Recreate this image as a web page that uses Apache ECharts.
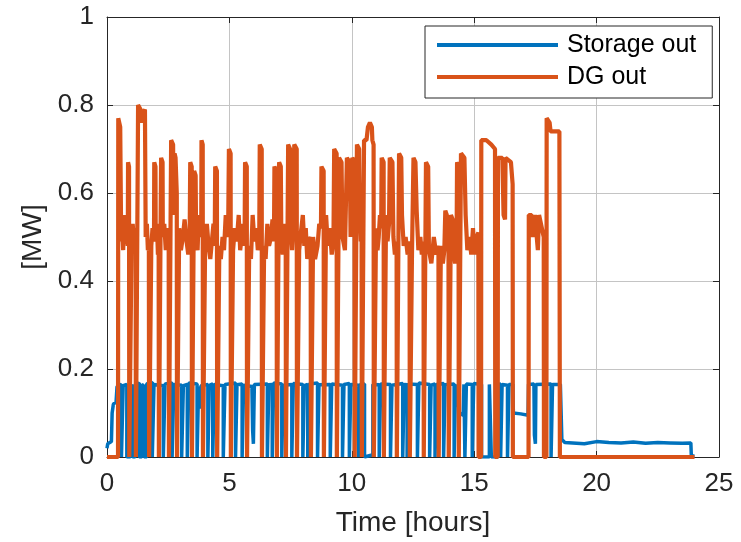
<!DOCTYPE html>
<html>
<head>
<meta charset="utf-8">
<script src="https://cdn.jsdelivr.net/npm/echarts@6/dist/echarts.min.js"></script>
<style>
html,body{margin:0;padding:0;background:#fff;}
#c{width:741px;height:542px;}
</style>
</head>
<body>
<div id="c"></div>
<script>
// ---- data (time in hours, power in MW) ----
var seriesNames = ['Storage out', 'DG out'];
var xTicks = [0, 5, 10, 15, 20, 25];
var yTicks = [0, 0.2, 0.4, 0.6, 0.8, 1];

var dgOut = [
[0,0],[0.45,0],
[0.46,0.77],[0.54,0.75],[0.58,0.49],[0.62,0.52],[0.66,0.47],[0.68,0.50],[0.72,0.55],[0.76,0.49],[0.80,0.52],[0.85,0.48],[0.86,0.67],[0.9,0.66],
[0.91,0],[0.99,0],
[1.0,0.47],[1.05,0.53],[1.1,0.49],[1.14,0.52],[1.17,0.50],
[1.18,0],[1.26,0],
[1.27,0.80],[1.37,0.79],[1.40,0.76],[1.47,0.78],[1.55,0.79],[1.58,0.50],[1.63,0.53],[1.67,0.47],[1.71,0.49],
[1.72,0],[1.80,0],
[1.81,0.48],[1.86,0.52],[1.92,0.49],[1.93,0.67],[1.98,0.66],[1.99,0.49],[2.04,0.53],[2.08,0.46],[2.11,0.48],
[2.12,0],[2.20,0],
[2.21,0.68],[2.27,0.67],[2.28,0.50],[2.34,0.53],[2.40,0.47],[2.46,0.52],[2.52,0.49],
[2.53,0],[2.61,0],
[2.62,0.72],[2.70,0.71],[2.72,0.55],[2.76,0.69],[2.80,0.68],[2.85,0.60],
[2.86,0],[2.94,0],
[2.95,0.52],[3.02,0.47],[3.10,0.50],[3.17,0.54],[3.25,0.49],[3.32,0.46],[3.38,0.52],[3.40,0.67],[3.46,0.66],
[3.47,0],[3.55,0],
[3.56,0.65],[3.62,0.64],[3.64,0.50],[3.70,0.47],[3.75,0.55],[3.80,0.50],[3.85,0.52],[3.86,0.72],[3.91,0.71],
[3.92,0],[4.00,0],
[4.01,0.49],[4.08,0.53],[4.15,0.48],[4.22,0.45],[4.30,0.50],[4.35,0.53],[4.40,0.48],[4.42,0.66],[4.49,0.65],
[4.50,0],[4.58,0],
[4.59,0.48],[4.65,0.45],[4.72,0.50],[4.78,0.47],[4.85,0.55],[4.90,0.50],[4.95,0.52],[4.98,0.70],[5.05,0.69],
[5.06,0],[5.14,0],
[5.15,0.47],[5.22,0.52],[5.30,0.49],[5.38,0.55],[5.44,0.47],[5.50,0.50],[5.56,0.53],[5.62,0.48],[5.64,0.67],[5.71,0.66],
[5.72,0],[5.80,0],
[5.81,0.48],[5.88,0.45],[5.95,0.55],[6.02,0.49],[6.10,0.52],[6.16,0.47],[6.22,0.50],[6.24,0.71],[6.32,0.70],
[6.33,0],[6.41,0],
[6.42,0.48],[6.48,0.45],[6.55,0.53],[6.62,0.48],[6.70,0.50],[6.76,0.54],[6.82,0.49],[6.84,0.66],[6.93,0.65],
[6.94,0],[7.02,0],
[7.03,0.67],[7.10,0.66],[7.12,0.50],[7.18,0.46],[7.25,0.53],[7.30,0.51],
[7.31,0],[7.39,0],
[7.40,0.71],[7.48,0.70],[7.50,0.52],[7.56,0.47],[7.62,0.53],[7.65,0.71],[7.75,0.70],
[7.76,0],[7.84,0],
[7.85,0.47],[7.92,0.51],[8.00,0.55],[8.06,0.48],[8.12,0.52],[8.18,0.45],[8.25,0.49],[8.32,0.50],
[8.33,0],[8.41,0],
[8.42,0.50],[8.50,0.45],[8.60,0.48],[8.67,0.53],[8.74,0.52],[8.76,0.66],[8.85,0.65],
[8.86,0],[8.94,0],
[8.95,0.55],[9.02,0.48],[9.10,0.52],[9.18,0.46],[9.25,0.49],[9.28,0.70],[9.38,0.69],
[9.39,0],[9.47,0],
[9.48,0.68],[9.58,0.67],[9.62,0.50],[9.72,0.47],[9.80,0.68],[9.92,0.67],[9.95,0.50],[10.02,0.68],[10.11,0.67],
[10.12,0],[10.20,0],
[10.21,0.71],[10.30,0.70],[10.33,0.55],[10.37,0.49],[10.40,0.53],
[10.41,0],[10.49,0],
[10.50,0.72],[10.60,0.72],[10.66,0.75],[10.74,0.76],[10.82,0.75],[10.84,0.72],[10.89,0.71],
[10.90,0],[10.98,0],
[10.99,0.52],[11.05,0.47],[11.10,0.50],[11.15,0.55],[11.20,0.52],[11.22,0.68],[11.30,0.67],
[11.31,0],[11.39,0],
[11.40,0.55],[11.46,0.49],[11.52,0.53],[11.55,0.68],[11.66,0.67],[11.70,0.50],[11.76,0.46],[11.83,0.49],
[11.84,0],[11.92,0],
[11.93,0.69],[12.02,0.68],[12.05,0.55],[12.12,0.48],[12.20,0.50],[12.28,0.46],[12.36,0.49],
[12.37,0],[12.45,0],
[12.46,0.47],[12.52,0.68],[12.60,0.67],[12.65,0.56],[12.72,0.47],[12.80,0.50],[12.86,0.46],[12.93,0.49],
[12.94,0],[13.02,0],
[13.03,0.67],[13.12,0.66],[13.15,0.47],[13.25,0.44],[13.35,0.50],[13.45,0.46],[13.54,0.48],
[13.55,0],[13.63,0],
[13.64,0.48],[13.72,0.44],[13.78,0.47],[13.82,0.56],[13.88,0.55],[13.90,0.47],[13.95,0.48],
[13.96,0],[14.04,0],
[14.05,0.55],[14.12,0.54],[14.15,0.47],[14.22,0.44],[14.28,0.48],[14.30,0.67],[14.36,0.66],
[14.37,0],[14.45,0],
[14.46,0.69],[14.60,0.68],[14.65,0.55],[14.72,0.47],[14.80,0.50],[14.88,0.46],[14.95,0.52],[15.02,0.46],[15.10,0.50],[15.17,0.51],
[15.18,0],[15.28,0],
[15.29,0.72],[15.50,0.72],[15.70,0.71],[15.85,0.70],
[15.86,0],[15.96,0],
[15.97,0.68],[16.15,0.68],[16.20,0.55],[16.26,0.54],[16.28,0.68],[16.50,0.67],[16.57,0.62],
[16.58,0],[17.22,0],
[17.23,0.55],[17.35,0.55],[17.38,0.50],[17.46,0.50],[17.48,0.55],[17.60,0.47],[17.65,0.55],[17.84,0.50],
[17.85,0],[17.95,0],
[17.96,0.77],[18.08,0.76],[18.12,0.74],[18.48,0.74],
[18.50,0],[24,0]
];

var storageOut = [
[0,0.02],[0.03,0.03],[0.18,0.035],[0.21,0.1],[0.26,0.12],[0.37,0.125],[0.41,0.16],
[0.59,0.165],[0.59,0],[0.66,0],[0.66,0.162],[0.81,0.165],[0.81,0],[0.95,0],[0.95,0.16],
[1.05,0.163],[1.05,0],[1.15,0],[1.15,0.165],[1.32,0.168],[1.32,0],[1.42,0],[1.42,0.165],
[1.52,0.16],[1.52,0],[1.62,0],[1.62,0.166],[1.85,0.17],[1.85,0],[1.92,0],[1.92,0.165],
[2.30,0.162],[2.30,0],[2.37,0],[2.37,0.166],[2.66,0.168],[2.66,0],[2.73,0],[2.73,0.165],
[3.05,0.163],[3.05,0],[3.12,0],[3.12,0.162],[3.28,0.165],[3.28,0],[3.34,0],[3.34,0.168],
[3.68,0.166],[3.68,0],[3.74,0],[3.74,0.16],[3.80,0.11],[3.84,0.162],
[4.12,0.165],[4.12,0],[4.18,0],[4.18,0.163],[4.32,0.166],[4.32,0],[4.38,0],[4.38,0.165],
[4.75,0.162],[4.75,0],[4.82,0],[4.82,0.165],[5.25,0.168],[5.25,0],[5.31,0],[5.31,0.164],
[5.52,0.166],[5.52,0],[5.58,0],[5.58,0.163],[5.92,0.16],[5.95,0.06],[5.98,0.03],[6.0,0.1],[6.02,0.165],
[6.55,0.166],[6.55,0],[6.61,0],[6.61,0.164],[6.75,0.165],[6.75,0],[6.81,0],[6.81,0.168],
[7.14,0.166],[7.14,0],[7.20,0],[7.20,0.163],[7.55,0.165],[7.55,0],[7.61,0],[7.61,0.167],
[8.00,0.165],[8.00,0],[8.06,0],[8.06,0.162],[8.20,0.165],[8.20,0],[8.26,0],[8.26,0.166],
[8.60,0.168],[8.60,0],[8.66,0],[8.66,0.164],[9.12,0.165],[9.12,0],[9.18,0],[9.18,0.166],
[9.62,0.163],[9.62,0],[9.68,0],[9.68,0.165],[9.90,0.167],[9.90,0],[9.96,0],[9.96,0.165],
[10.28,0.163],[10.28,0],[10.34,0],[10.34,0.165],[10.52,0.166],[10.52,0],[10.86,0.005],[10.86,0.165],
[11.12,0.164],[11.12,0],[11.18,0],[11.18,0.166],[11.58,0.165],[11.58,0],[11.64,0],[11.64,0.163],
[12.08,0.167],[12.08,0],[12.14,0],[12.14,0.165],[12.26,0.164],[12.26,0],[12.32,0],[12.32,0.166],
[12.68,0.165],[12.68,0],[12.74,0],[12.74,0.168],[13.18,0.165],[13.18,0],[13.24,0],[13.24,0.163],
[13.40,0.166],[13.40,0],[13.46,0],[13.46,0.165],[13.75,0.167],[13.75,0],[13.81,0],[13.81,0.164],
[14.18,0.166],[14.18,0],[14.24,0],[14.24,0.165],[14.40,0.1],[14.55,0.095],[14.58,0.165],
[14.62,0.165],[14.62,0],[14.68,0],[14.68,0.166],[14.92,0.165],[14.92,0],[14.98,0],[14.98,0.167],
[15.30,0.165],[15.30,0],[15.62,0],[15.62,0.165],[15.70,0.165],[15.70,0],[15.98,0],[15.98,0.165],
[16.08,0.166],[16.08,0],[16.14,0],[16.14,0.165],[16.36,0.163],[16.36,0],[16.42,0],[16.42,0.165],
[16.58,0.165],[16.60,0.1],[16.9,0.098],[17.2,0.095],[17.22,0.165],[17.44,0.166],[17.46,0.05],
[17.50,0.03],[17.52,0.165],[18.14,0.166],[18.14,0],[18.20,0],[18.20,0.165],[18.52,0.165],
[18.58,0.04],[18.7,0.033],[19.5,0.03],[20.0,0.035],[20.5,0.033],[21.0,0.032],[21.5,0.034],
[22.0,0.031],[22.5,0.033],[23.0,0.032],[23.5,0.031],[23.85,0.032],[23.87,0.002],[24,0.002]
];

// ---- chart ----
var FONT = "'Liberation Sans', Arial, Helvetica, sans-serif";
var AX = '#262626';
var chart = echarts.init(document.getElementById('c'), null, {renderer: 'canvas'});

function baseX(pos, labels) {
  return {
    type: 'value', position: pos, min: xTicks[0], max: xTicks[xTicks.length - 1],
    interval: xTicks[1] - xTicks[0],
    axisLine: {show: true, onZero: false, lineStyle: {color: AX, width: 1}},
    axisTick: {show: true, inside: true, length: 6, lineStyle: {color: AX}},
    axisLabel: {show: labels, color: AX, fontSize: 26, fontFamily: FONT, margin: 14},
    splitLine: {show: labels, lineStyle: {color: '#c4c4c4', width: 1}}
  };
}
function baseY(pos, labels) {
  return {
    type: 'value', position: pos, min: yTicks[0], max: yTicks[yTicks.length - 1],
    interval: yTicks[1] - yTicks[0],
    axisLine: {show: true, onZero: false, lineStyle: {color: AX, width: 1}},
    axisTick: {show: true, inside: true, length: 6, lineStyle: {color: AX}},
    axisLabel: {show: labels, color: AX, fontSize: 26, fontFamily: FONT, margin: 13},
    splitLine: {show: labels, lineStyle: {color: '#c4c4c4', width: 1}}
  };
}

var x0 = baseX('bottom', true);
x0.name = 'Time [hours]';
x0.nameLocation = 'middle';
x0.nameGap = 52;
x0.nameTextStyle = {color: AX, fontSize: 28, fontFamily: FONT};
var x1 = baseX('top', false);

var y0 = baseY('left', true);
y0.name = '[MW]';
y0.nameLocation = 'middle';
y0.nameGap = 60;
y0.nameTextStyle = {color: AX, fontSize: 28, fontFamily: FONT};
var y1 = baseY('right', false);

chart.setOption({
  animation: false,
  backgroundColor: '#fff',
  grid: {left: 107, right: 22, top: 17, bottom: 85, containLabel: false},
  legend: {
    data: seriesNames,
    orient: 'vertical',
    left: 425, top: 26,
    icon: 'rect',
    itemWidth: 121, itemHeight: 4, itemGap: 4,
    padding: [5, 16, 7, 12],
    backgroundColor: '#fff',
    borderColor: AX, borderWidth: 1, borderRadius: 0,
    textStyle: {color: '#000', fontSize: 25, fontFamily: FONT, lineHeight: 28, padding: [0, 0, 0, 4]}
  },
  xAxis: [x0, x1],
  yAxis: [y0, y1],
  series: [
    {name: seriesNames[0], type: 'line', data: storageOut, showSymbol: false, symbol: 'none',
     xAxisIndex: 0, yAxisIndex: 0, color: '#0072BD',
     lineStyle: {color: '#0072BD', width: 3.5}, z: 2},
    {name: seriesNames[1], type: 'line', data: dgOut, showSymbol: false, symbol: 'none',
     xAxisIndex: 0, yAxisIndex: 0, color: '#D95319',
     lineStyle: {color: '#D95319', width: 4.2}, z: 3}
  ]
});
</script>
</body>
</html>
